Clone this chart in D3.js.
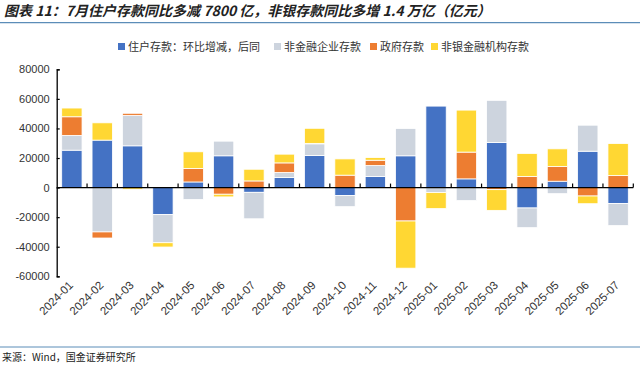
<!DOCTYPE html>
<html>
<head>
<meta charset="utf-8">
<script src="https://d3js.org/d3.v7.min.js"></script>
<style>
body { margin: 0; background: #fff; }
svg { display: block; }
.cn { font-family: "Noto Sans CJK SC", sans-serif; }
.num { font-family: "Liberation Sans", Arial, sans-serif; }
</style>
</head>
<body>
<svg id="chart" width="640" height="369"></svg>
<script>
// data (亿元)
var months = ["2024-01","2024-02","2024-03","2024-04","2024-05","2024-06","2024-07","2024-08","2024-09","2024-10",
  "2024-11","2024-12","2025-01","2025-02","2025-03","2025-04","2025-05","2025-06","2025-07"];
var household = [25300, 32100, 28250, -18300, 3800, 21500, -3200, 6800, 21700, -5400, 7500, 21500, 55100, 5900, 30500, -13800, 4300, 24600, -10800];
var nonfin    = [10000, -30000, 20600, -19000, -8100, 9900, -17900, 3400, 7900, -7500, 7400, 18500, -3400, -8800, 28500, -13300, -4100, 17600, -14900];
var gov       = [12600, -4100, 1400, 0, 9100, -4500, 4500, 6500, 300, 8400, 3600, -22600, 0, 18100, -1400, 7500, 9900, -5700, 8100];
var nonbank   = [5900, 11700, -1100, -2900, 11300, -1800, 7900, 5900, 10200, 11000, 1800, -31900, -10800, 28400, -14000, 15600, 12000, -5200, 21700];

var seriesNames = ["住户存款：环比增减，后同", "非金融企业存款", "政府存款", "非银金融机构存款"];
var seriesKeys = ["household", "nonfin", "gov", "nonbank"];
var colors = ["#4472C4", "#CDD4DE", "#ED7D31", "#FFD733"];
var yTicks = [-60000, -40000, -20000, 0, 20000, 40000, 60000, 80000];

var rows = months.map(function(m, i) {
  return {month: m, household: household[i], nonfin: nonfin[i], gov: gov[i], nonbank: nonbank[i]};
});

var svg = d3.select("#chart");
var plotLeft = 56.7, plotRight = 633.3, plotTop = 69.3, plotBottom = 276.3;

var x = d3.scaleBand().domain(months).range([plotLeft, plotRight]).paddingInner(0.33).paddingOuter(0.165);
var xb = d3.scaleBand().domain(months).range([plotLeft, plotRight]);
var y = d3.scaleLinear().domain([-60000, 80000]).range([plotBottom, plotTop]);
var color = d3.scaleOrdinal().domain(seriesKeys).range(colors);

// title + rules
svg.append("text").attr("class", "cn")
  .attr("x", 4).attr("y", 16)
  .style("font-size", "14px").style("font-style", "italic").style("font-weight", "bold")
  .attr("fill", "#222")
  .text("图表 11：7月住户存款同比多减 7800 亿，非银存款同比多增 1.4 万亿（亿元）");
svg.append("line").attr("x1", 0).attr("x2", 640).attr("y1", 22.7).attr("y2", 22.7)
  .attr("stroke", "#5B8DB8").attr("stroke-width", 1.2);
svg.append("line").attr("x1", 0).attr("x2", 640).attr("y1", 347).attr("y2", 347)
  .attr("stroke", "#5B8DB8").attr("stroke-width", 1);
svg.append("text").attr("class", "cn")
  .attr("x", 2).attr("y", 361)
  .style("font-size", "10px").attr("fill", "#222")
  .text("来源：Wind，国金证券研究所");

// legend
var legX = [118, 274, 370, 431];
var leg = svg.selectAll(".leg").data(seriesKeys).enter().append("g")
  .attr("transform", function(d, i) { return "translate(" + legX[i] + ",43)"; });
leg.append("rect").attr("width", 7).attr("height", 7)
  .attr("fill", function(d) { return color(d); });
leg.append("text").attr("class", "cn")
  .attr("x", 10).attr("y", 7.5)
  .style("font-size", "11px").attr("fill", "#333")
  .text(function(d, i) { return seriesNames[i]; });

// bars
var stack = d3.stack().keys(seriesKeys).offset(d3.stackOffsetDiverging);
var layers = stack(rows);
svg.append("g").selectAll("g").data(layers).enter().append("g")
  .attr("fill", function(d) { return color(d.key); })
  .selectAll("rect").data(function(d) { return d; }).enter().append("rect")
  .attr("x", function(d) { return x(d.data.month); })
  .attr("width", x.bandwidth())
  .attr("y", function(d) { return y(Math.max(d[0], d[1])); })
  .attr("height", function(d) { return Math.abs(y(d[0]) - y(d[1])); })
  .attr("stroke", "#fff").attr("stroke-width", 0.8);

// y axis
var yAxis = svg.append("g").attr("transform", "translate(" + plotLeft + ",0)")
  .call(d3.axisRight(y).tickValues(yTicks).tickSize(3).tickFormat(function(d) { return d; }));
yAxis.select(".domain").attr("stroke", "#000").attr("stroke-width", 1.3);
yAxis.selectAll(".tick line").attr("stroke", "#000").attr("stroke-width", 1.2);
yAxis.selectAll(".tick text").attr("class", "num")
  .attr("x", -7).attr("text-anchor", "end")
  .style("font-size", "11px").attr("fill", "#333");

// zero line with category ticks pointing up
svg.append("line").attr("x1", plotLeft).attr("x2", plotRight).attr("y1", y(0)).attr("y2", y(0))
  .attr("stroke", "#000").attr("stroke-width", 1.3);
svg.append("g").selectAll("line").data(months).enter().append("line")
  .attr("x1", function(d) { return xb(d) + xb.bandwidth(); })
  .attr("x2", function(d) { return xb(d) + xb.bandwidth(); })
  .attr("y1", y(0)).attr("y2", y(0) - 4)
  .attr("stroke", "#000").attr("stroke-width", 1.2);

// month labels at the bottom
svg.append("g").selectAll("text").data(months).enter().append("text")
  .attr("class", "num")
  .attr("transform", function(d) { return "translate(" + (xb(d) + xb.bandwidth() / 2 + 2) + ",286) rotate(-45)"; })
  .attr("text-anchor", "end")
  .style("font-size", "11.5px").attr("fill", "#333")
  .text(function(d) { return d; });
</script>
</body>
</html>
